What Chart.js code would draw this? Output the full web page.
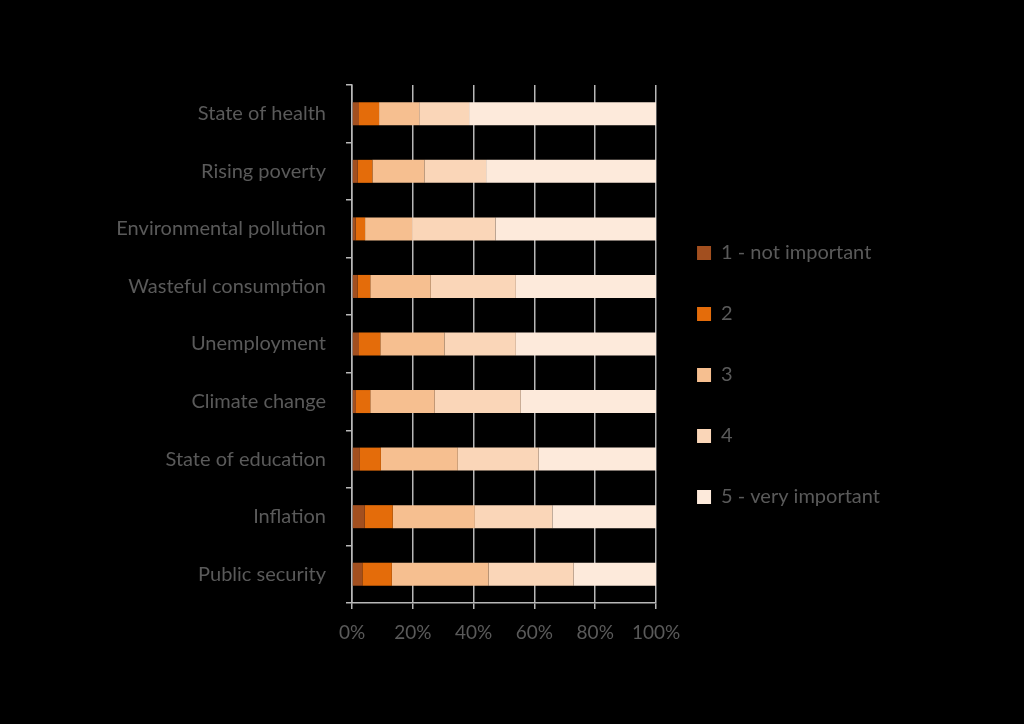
<!DOCTYPE html>
<html>
<head>
<meta charset="utf-8">
<script src="https://cdn.jsdelivr.net/npm/chart.js@4/dist/chart.umd.min.js"></script>
<style>
  html, body { margin: 0; padding: 0; background: #000; }
  #wrap { width: 1024px; height: 724px; }
</style>
</head>
<body>
<div id="wrap"><canvas id="c" width="1024" height="724"></canvas></div>
<script>
const categories = ["State of health", "Rising poverty", "Environmental pollution", "Wasteful consumption", "Unemployment", "Climate change", "State of education", "Inflation", "Public security"];
const seriesNames = ["1 - not important", "2", "3", "4", "5 - very important"];
const s1 = [2.3, 1.9, 1.2, 1.8, 2.3, 1.3, 2.6, 4.2, 3.4];
const s2 = [6.6, 4.8, 3.1, 4.2, 7.0, 4.7, 6.9, 9.2, 9.7];
const s3 = [13.2, 17.1, 15.5, 19.9, 21.1, 21.2, 25.3, 27.0, 31.8];
const s4 = [16.4, 20.3, 27.4, 28.0, 23.5, 28.3, 26.6, 25.5, 28.0];
const s5 = [61.5, 55.9, 52.8, 46.1, 46.1, 44.5, 38.6, 34.1, 27.1];
const xTicks = [0, 20, 40, 60, 80, 100];

const colors = ["#A24F1F", "#E46C0A", "#F6BF90", "#FAD6B8", "#FDEADB"];
const seriesValues = [s1, s2, s3, s4, s5];
const textColor = "#5a5a5a";
const lineColor = "#b8b8b8";
const fontFamily = "Lato, 'Open Sans', sans-serif";

new Chart(document.getElementById("c"), {
  type: "bar",
  data: {
    labels: categories,
    datasets: seriesNames.map((n, i) => ({
      label: n,
      data: seriesValues[i],
      backgroundColor: colors[i],
      borderWidth: 0,
      barPercentage: 0.4,
      categoryPercentage: 1.0
    }))
  },
  options: {
    indexAxis: "y",
    responsive: false,
    animation: false,
    layout: { padding: { top: 85, bottom: 81, left: 0, right: 134 } },
    plugins: {
      tooltip: { enabled: false },
      legend: {
        position: "right",
        align: "center",
        maxWidth: 400,
        title: { display: true, text: "", font: { size: 10 }, padding: { top: 10, bottom: 0 } },
        labels: {
          boxWidth: 14,
          boxHeight: 14,
          padding: 41,
          color: textColor,
          font: { family: fontFamily, size: 20 }
        }
      }
    },
    scales: {
      x: {
        stacked: true,
        min: 0,
        max: 100,
        afterBuildTicks: (scale) => { scale.ticks = xTicks.map(v => ({ value: v })); },
        afterFit: (scale) => { scale.height = 40; },
        grid: { color: lineColor, lineWidth: 1.5, tickLength: 6, drawTicks: true },
        border: { display: true, color: lineColor, width: 1.5 },
        ticks: {
          color: textColor,
          padding: 12,
          font: { family: fontFamily, size: 19 },
          callback: (v) => v + "%"
        }
      },
      y: {
        stacked: true,
        offset: true,
        afterFit: (scale) => { scale.width = 352; },
        grid: { display: true, drawOnChartArea: false, drawTicks: true, tickLength: 6, color: lineColor, lineWidth: 1.5, offset: true },
        border: { display: true, color: lineColor, width: 1.5 },
        ticks: {
          color: textColor,
          padding: 20,
          font: { family: fontFamily, size: 20 }
        }
      }
    }
  }
});
</script>
</body>
</html>
